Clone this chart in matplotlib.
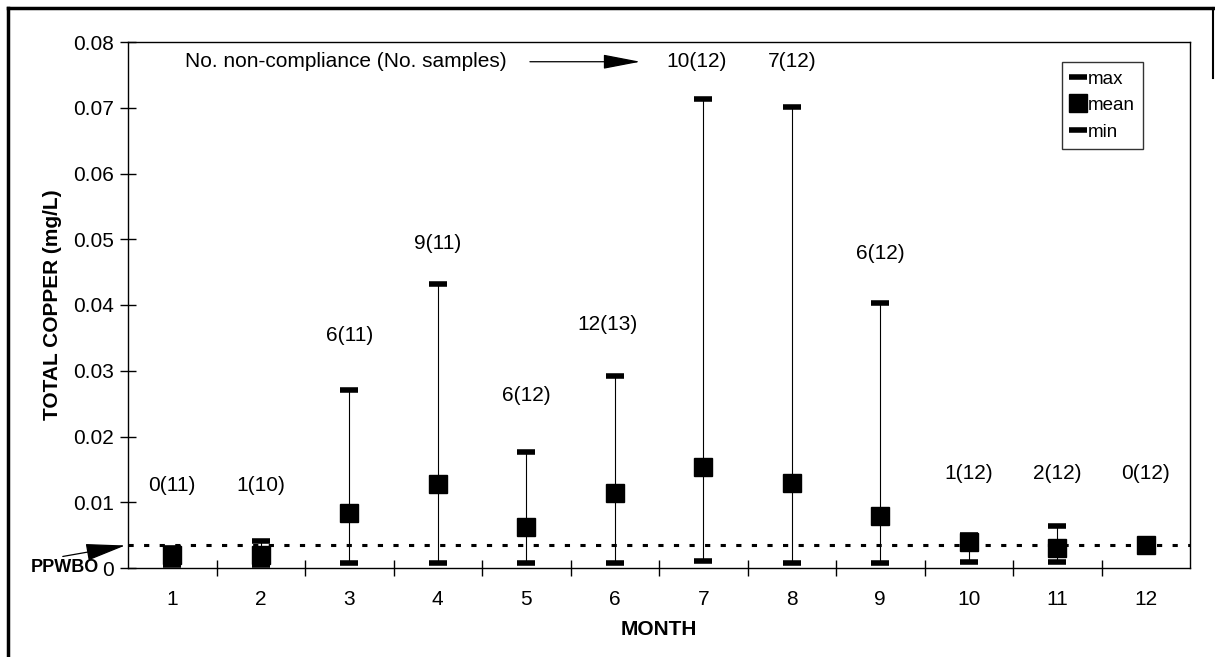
import matplotlib.pyplot as plt
import matplotlib.lines as ml
import numpy as np

plt.rcParams['font.family'] = ['Liberation Sans', 'DejaVu Sans']
plt.rcParams['font.size'] = 15

# Monthly total copper (mg/L)
months = [1, 2, 3, 4, 5, 6, 7, 8, 9, 10, 11, 12]
max_vals = [0.003, 0.0041, 0.0271, 0.0432, 0.0177, 0.0292, 0.0713, 0.0701, 0.0403, 0.005, 0.0064, 0.0035]
mean_vals = [0.002, 0.002, 0.0083, 0.0128, 0.0062, 0.0114, 0.0154, 0.0129, 0.0079, 0.004, 0.003, 0.0035]
min_vals = [0.0005, 0.0005, 0.0008, 0.0008, 0.0008, 0.0008, 0.001, 0.0008, 0.0008, 0.0009, 0.0009, 0.0035]
counts = ['0(11)', '1(10)', '6(11)', '9(11)', '6(12)', '12(13)', '10(12)', '7(12)', '6(12)', '1(12)', '2(12)', '0(12)']
ppwbo = 0.0035

# heights of the count labels (layout only)
label_y = [0.0125, 0.0125, 0.0354, 0.0494, 0.0263, 0.0371, 0.077, 0.077, 0.0478, 0.0144, 0.0144, 0.0144]

fig = plt.figure(figsize=(12.15, 6.57), dpi=100)
ax = fig.add_axes([128/1215, 1 - 568/657, 1062/1215, 526/657])

x = np.array(months)
ax.vlines(x, min_vals, max_vals, color='black', lw=0.8, zorder=2)
ax.plot(x, max_vals, ls='none', marker='_', ms=12.5, mew=4, color='black', label='max', zorder=3)
ax.plot(x, mean_vals, ls='none', marker='s', ms=12.5, color='black', label='mean', zorder=3)
ax.plot(x, min_vals, ls='none', marker='_', ms=12.5, mew=4, color='black', label='min', zorder=3)

ax.axhline(ppwbo, color='black', lw=2.2, ls=(0, (1.7, 3.4)), zorder=1)

for m, txt, yy in zip(months, counts, label_y):
    ax.text(m - 0.08 if len(txt) > 5 else m, yy, txt, ha='center', va='center', fontsize=15)

ax.set_xlim(0.5, 12.5)
ax.set_ylim(0, 0.08)

# month labels at centres, tick marks at the boundaries
ax.set_xticks(np.arange(1.5, 12.5, 1))
ax.set_xticklabels([])
ax.set_xticks(months, minor=True)
ax.set_xticklabels([str(m) for m in months], minor=True)
ax.tick_params(axis='x', which='major', direction='inout', length=12, width=1)
ax.tick_params(axis='x', which='minor', length=0, pad=16, labelsize=15)

yt = np.arange(0, 0.081, 0.01)
ax.set_yticks(yt)
ax.set_yticklabels(['0'] + [f'{v:.2f}' for v in yt[1:]])
ax.tick_params(axis='y', direction='inout', length=12, width=1, pad=4, labelsize=15)

for s in ax.spines.values():
    s.set_linewidth(1)

ax.set_xlabel('MONTH', fontweight='bold', fontsize=15, labelpad=8)
ax.set_ylabel('TOTAL COPPER (mg/L)', fontweight='bold', fontsize=15, labelpad=8)

# annotation arrows
ax.text(1.144, 0.077, 'No. non-compliance (No. samples)', ha='left', va='center', fontsize=15)
ax.annotate('', xy=(6.32, 0.077), xytext=(5.01, 0.077),
            arrowprops=dict(arrowstyle='-|>,head_length=1.3,head_width=0.25',
                            color='black', lw=0.9, mutation_scale=18))

ax.text(-0.0275, 0.0, 'PPWBO', transform=ax.transAxes, ha='right', va='center',
        fontsize=13, fontweight='bold')
ax.annotate('', xy=(0.5, ppwbo), xycoords='data', xytext=(-0.064, 0.021),
            textcoords='axes fraction', annotation_clip=False,
            arrowprops=dict(arrowstyle='-|>,head_length=1.4,head_width=0.3',
                            color='black', lw=0.9, mutation_scale=18))

leg = ax.legend(loc='upper right', bbox_to_anchor=(0.956, 0.962), borderaxespad=0,
                frameon=True, fancybox=False, edgecolor='black', fontsize=13.5,
                handlelength=0.9, handletextpad=0.05, borderpad=0.45, labelspacing=0.5)
leg.get_frame().set_linewidth(1)

# outer frame of the scanned figure
fig.add_artist(ml.Line2D([8/1215, 8/1215], [0, 1 - 8/657], color='black', lw=2.5, transform=fig.transFigure))
fig.add_artist(ml.Line2D([8/1215, 1213/1215], [1 - 8/657, 1 - 8/657], color='black', lw=2.5, transform=fig.transFigure))
fig.add_artist(ml.Line2D([1213/1215, 1213/1215], [1 - 8/657, 1 - 78/657], color='black', lw=1.5, transform=fig.transFigure))

fig.savefig('out.png', dpi=100)
